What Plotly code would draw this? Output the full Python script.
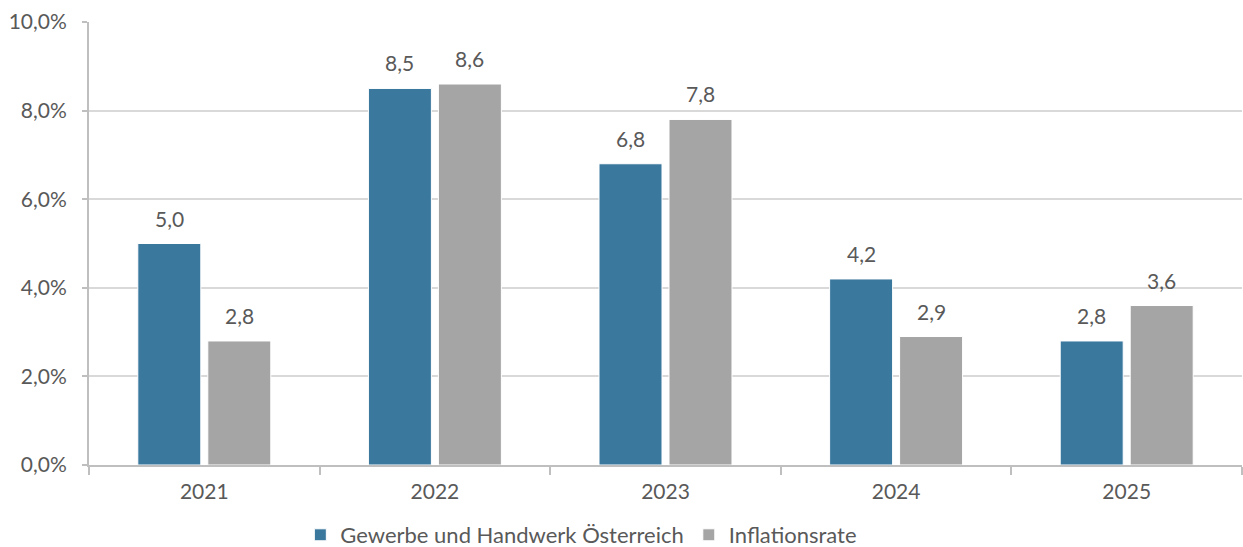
import plotly.graph_objects as go

years = ["2021", "2022", "2023", "2024", "2025"]
gewerbe = [5.0, 8.5, 6.8, 4.2, 2.8]
inflation = [2.8, 8.6, 7.8, 2.9, 3.6]
series_names = ["Gewerbe und Handwerk Österreich", "Inflationsrate"]
y_ticks = [0, 2, 4, 6, 8, 10]
y_ticktext = ["0,0%", "2,0%", "4,0%", "6,0%", "8,0%", "10,0%"]

BLUE = "#3b789e"
GRAY = "#a5a5a5"
TXT = "#595959"
FONT = "Lato"

fig = go.Figure()
for name, vals, col in [(series_names[0], gewerbe, BLUE), (series_names[1], inflation, GRAY)]:
    fig.add_trace(go.Bar(
        x=years, y=vals, name=name,
        marker=dict(color=col, line=dict(color="white", width=1)),
    ))

# data labels placed above each bar
for vals, shift in [(gewerbe, -35), (inflation, 35)]:
    for i, v in enumerate(vals):
        fig.add_annotation(
            x=i, y=v, text=f"{v:.1f}".replace(".", ","),
            xref="x", yref="y", xshift=shift, yshift=11,
            yanchor="bottom", showarrow=False,
            font=dict(size=21, color=TXT, family=FONT),
        )

fig.update_layout(
    width=1243, height=547,
    margin=dict(l=89, r=1, t=22, b=82, autoexpand=False),
    paper_bgcolor="white", plot_bgcolor="white",
    barmode="group", bargap=0.393, bargroupgap=0.1,
    font=dict(family=FONT, size=21, color=TXT),
    showlegend=True,
    legend=dict(orientation="h", x=0.427, xanchor="center", y=-0.158, yanchor="middle",
                font=dict(size=22, color=TXT, family=FONT), itemwidth=30,
                traceorder="normal"),
)
fig.update_xaxes(
    type="category",
    showline=True, linecolor="#bfbfbf", linewidth=2,
    ticks="outside", tickson="boundaries", ticklen=8, tickcolor="#bfbfbf", tickwidth=2,
    tickfont=dict(size=21, color=TXT, family=FONT), showgrid=False,
    automargin=False, ticklabelstandoff=7,
)
fig.update_yaxes(
    range=[0, 10], tickvals=y_ticks, ticktext=y_ticktext,
    showline=True, linecolor="#bfbfbf", linewidth=2,
    ticks="outside", ticklen=5, tickcolor="#bfbfbf", tickwidth=2,
    showgrid=True, gridcolor="#d9d9d9", gridwidth=2, zeroline=False,
    tickfont=dict(size=21, color=TXT, family=FONT), ticklabelstandoff=11,
    automargin=False,
)

fig.write_html("out.html", config={"displayModeBar": False},
               post_script="document.body.style.margin='0px';")
